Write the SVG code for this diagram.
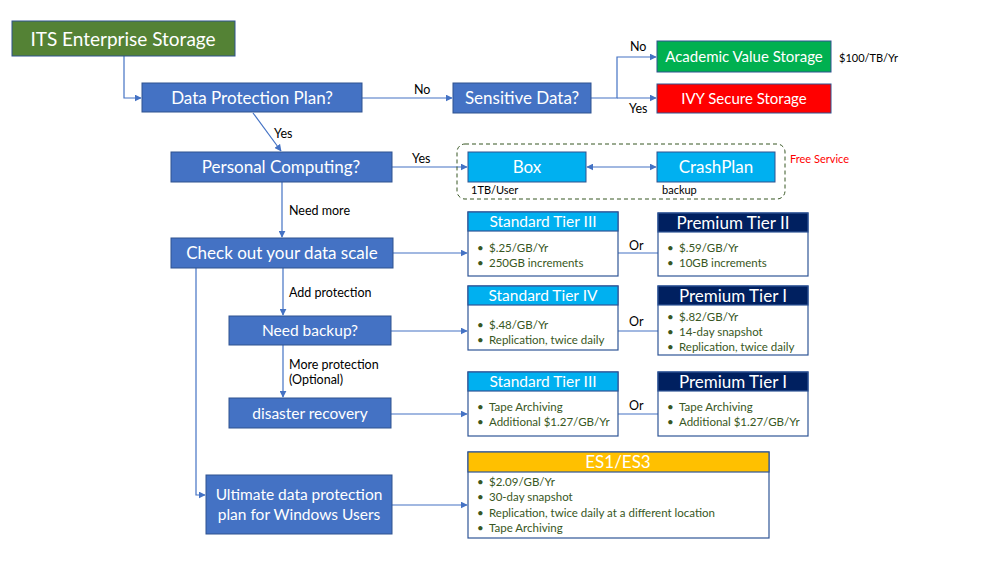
<svg xmlns="http://www.w3.org/2000/svg" width="1000" height="563" viewBox="0 0 1000 563">
<style>
text{font-family:Lato,"Liberation Sans",sans-serif}
.bx{fill:#4472C4;stroke:#2F528F;stroke-width:1}
.t{fill:#fff;font-size:17px;text-anchor:middle}
.t2{fill:#fff;font-size:15.5px;text-anchor:middle}
.lb{fill:#000;font-size:12.5px}
.sm{fill:#000;font-size:11px}
.c{fill:none;stroke:#4472C4;stroke-width:1.2}
.body{fill:#fff;stroke:#2F5597;stroke-width:1.2}
.hs{fill:#00B0F0;stroke:#2F5597;stroke-width:1.2}
.hp{fill:#002060;stroke:#2F5597;stroke-width:1.2}
.ht{fill:#fff;font-size:15.5px;text-anchor:middle}
.hpt{fill:#fff;font-size:17px;text-anchor:middle}
.bl{fill:#385723;font-size:11.5px}
</style>
<defs>
<marker id="ar" viewBox="0 0 10 10" refX="9" refY="5" markerWidth="7" markerHeight="7" markerUnits="userSpaceOnUse" orient="auto-start-reverse">
<path d="M0,0 L10,5 L0,10 z" fill="#4472C4"/>
</marker>
</defs>
<rect width="1000" height="563" fill="#fff"/>

<g id="connectors">
<polyline class="c" points="124,56 124,98 141,98" marker-end="url(#ar)"/>
<line class="c" x1="362" y1="98" x2="452" y2="98" marker-end="url(#ar)"/>
<polyline class="c" points="591,98 617,98 617,57 656,57" marker-end="url(#ar)"/>
<line class="c" x1="617" y1="98" x2="656" y2="98" marker-end="url(#ar)"/>
<line class="c" x1="253" y1="113" x2="281" y2="151" marker-end="url(#ar)"/>
<line class="c" x1="392" y1="167" x2="467" y2="167" marker-end="url(#ar)"/>
<line class="c" x1="587" y1="167" x2="656" y2="167" marker-start="url(#ar)" marker-end="url(#ar)"/>
<line class="c" x1="282" y1="182" x2="282" y2="237" marker-end="url(#ar)"/>
<line class="c" x1="393" y1="253" x2="467" y2="253" marker-end="url(#ar)"/>
<line class="c" x1="618" y1="253" x2="658" y2="253"/>
<line class="c" x1="283" y1="268" x2="283" y2="315" marker-end="url(#ar)"/>
<line class="c" x1="391" y1="331" x2="467" y2="331" marker-end="url(#ar)"/>
<line class="c" x1="618" y1="331" x2="658" y2="331"/>
<line class="c" x1="283" y1="345" x2="283" y2="397" marker-end="url(#ar)"/>
<line class="c" x1="391" y1="414" x2="467" y2="414" marker-end="url(#ar)"/>
<line class="c" x1="618" y1="414" x2="658" y2="414"/>
<polyline class="c" points="196,268 196,495 205,495" marker-end="url(#ar)"/>
<line class="c" x1="392" y1="505" x2="467" y2="505" marker-end="url(#ar)"/>
</g>

<g id="labels">
<text class="lb" x="414" y="94">No</text>
<text class="lb" x="630" y="51">No</text>
<text class="lb" x="629" y="113">Yes</text>
<text class="lb" x="274" y="138">Yes</text>
<text class="lb" x="412" y="163">Yes</text>
<text class="lb" x="289" y="215">Need more</text>
<text class="lb" x="289" y="297">Add protection</text>
<text class="lb" x="289" y="369">More protection</text>
<text class="lb" x="289" y="384">(Optional)</text>
<text class="lb" x="629" y="250">Or</text>
<text class="lb" x="629" y="326">Or</text>
<text class="lb" x="629" y="410">Or</text>
</g>

<g id="its-enterprise-storage">
<rect x="12" y="21" width="223" height="35" fill="#548235" stroke="#2F528F"/>
<text class="t" x="123" y="46" style="font-size:19px">ITS Enterprise Storage</text>
</g>
<g id="data-protection-plan">
<rect class="bx" x="142" y="83" width="220" height="29"/>
<text class="t" x="252" y="104">Data Protection Plan?</text>
</g>
<g id="sensitive-data">
<rect class="bx" x="453" y="83" width="138" height="30"/>
<text class="t" x="522" y="104">Sensitive Data?</text>
</g>
<g id="academic-value-storage">
<rect x="657" y="41" width="174" height="31" fill="#00B050" stroke="#2F528F"/>
<text class="t" x="744" y="62" style="font-size:15px">Academic Value Storage</text>
<text class="sm" x="839" y="62">$100/TB/Yr</text>
</g>
<g id="ivy-secure-storage">
<rect x="657" y="84" width="174" height="29" fill="#FF0000" stroke="#2F528F"/>
<text class="t" x="744" y="104" style="font-size:15px">IVY Secure Storage</text>
</g>
<g id="personal-computing">
<rect class="bx" x="171" y="152" width="221" height="30"/>
<text class="t" x="281" y="173">Personal Computing?</text>
</g>
<g id="free-service">
<rect x="457" y="144" width="328" height="55" rx="8" fill="none" stroke="#375623" stroke-dasharray="4,3"/>
<text x="790" y="163" style="font-size:11px;fill:#FF0000">Free Service</text>
</g>
<g id="box">
<rect x="468" y="152" width="118" height="30" fill="#00B0F0" stroke="#2F528F"/>
<text class="t" x="527" y="173">Box</text>
<text class="sm" x="471" y="194">1TB/User</text>
</g>
<g id="crashplan">
<rect x="657" y="152" width="118" height="30" fill="#00B0F0" stroke="#2F528F"/>
<text class="t" x="716" y="173">CrashPlan</text>
<text class="sm" x="662" y="194">backup</text>
</g>
<g id="check-data-scale">
<rect class="bx" x="171" y="238" width="222" height="30"/>
<text class="t" x="282" y="259">Check out your data scale</text>
</g>
<g id="need-backup">
<rect class="bx" x="229" y="316" width="162" height="29"/>
<text class="t2" x="310" y="336">Need backup?</text>
</g>
<g id="disaster-recovery">
<rect class="bx" x="229" y="398" width="162" height="30"/>
<text class="t2" x="310" y="419">disaster recovery</text>
</g>
<g id="ultimate">
<rect class="bx" x="206" y="475" width="186" height="59"/>
<text class="t2" x="299" y="500">Ultimate data protection</text>
<text class="t2" x="299" y="520">plan for Windows Users</text>
</g>

<g id="standard-tier-iii-a">
<rect class="body" x="468" y="212" width="150" height="64"/>
<rect class="hs" x="468" y="212" width="150" height="19"/>
<text class="ht" x="543" y="227">Standard Tier III</text>
<text class="bl" x="477" y="252">•</text><text class="bl" x="489" y="252">$.25/GB/Yr</text>
<text class="bl" x="477" y="267">•</text><text class="bl" x="489" y="267">250GB increments</text>
</g>
<g id="premium-tier-ii">
<rect class="body" x="658" y="213" width="150" height="63"/>
<rect class="hp" x="658" y="213" width="150" height="19"/>
<text class="hpt" x="733" y="229">Premium Tier II</text>
<text class="bl" x="667" y="252">•</text><text class="bl" x="679" y="252">$.59/GB/Yr</text>
<text class="bl" x="667" y="267">•</text><text class="bl" x="679" y="267">10GB increments</text>
</g>
<g id="standard-tier-iv">
<rect class="body" x="468" y="286" width="150" height="64"/>
<rect class="hs" x="468" y="286" width="150" height="19"/>
<text class="ht" x="543" y="301">Standard Tier IV</text>
<text class="bl" x="477" y="329">•</text><text class="bl" x="489" y="329">$.48/GB/Yr</text>
<text class="bl" x="477" y="344">•</text><text class="bl" x="489" y="344">Replication, twice daily</text>
</g>
<g id="premium-tier-i-a">
<rect class="body" x="658" y="286" width="150" height="69"/>
<rect class="hp" x="658" y="286" width="150" height="19"/>
<text class="hpt" x="733" y="302">Premium Tier I</text>
<text class="bl" x="667" y="321">•</text><text class="bl" x="679" y="321">$.82/GB/Yr</text>
<text class="bl" x="667" y="336">•</text><text class="bl" x="679" y="336">14-day snapshot</text>
<text class="bl" x="667" y="351">•</text><text class="bl" x="679" y="351">Replication, twice daily</text>
</g>
<g id="standard-tier-iii-b">
<rect class="body" x="468" y="372" width="150" height="64"/>
<rect class="hs" x="468" y="372" width="150" height="19"/>
<text class="ht" x="543" y="387">Standard Tier III</text>
<text class="bl" x="477" y="411">•</text><text class="bl" x="489" y="411">Tape Archiving</text>
<text class="bl" x="477" y="426">•</text><text class="bl" x="489" y="426">Additional $1.27/GB/Yr</text>
</g>
<g id="premium-tier-i-b">
<rect class="body" x="658" y="372" width="150" height="64"/>
<rect class="hp" x="658" y="372" width="150" height="19"/>
<text class="hpt" x="733" y="388">Premium Tier I</text>
<text class="bl" x="667" y="411">•</text><text class="bl" x="679" y="411">Tape Archiving</text>
<text class="bl" x="667" y="426">•</text><text class="bl" x="679" y="426">Additional $1.27/GB/Yr</text>
</g>
<g id="es1-es3">
<rect class="body" x="468" y="452" width="301" height="86"/>
<rect x="468" y="452" width="301" height="20" fill="#FFC000" stroke="#2F5597" stroke-width="1.2"/>
<text class="hpt" x="618" y="468">ES1/ES3</text>
<text class="bl" x="477" y="486">•</text><text class="bl" x="489" y="486">$2.09/GB/Yr</text>
<text class="bl" x="477" y="501">•</text><text class="bl" x="489" y="501">30-day snapshot</text>
<text class="bl" x="477" y="517">•</text><text class="bl" x="489" y="517">Replication, twice daily at a different location</text>
<text class="bl" x="477" y="532">•</text><text class="bl" x="489" y="532">Tape Archiving</text>
</g>
</svg>
